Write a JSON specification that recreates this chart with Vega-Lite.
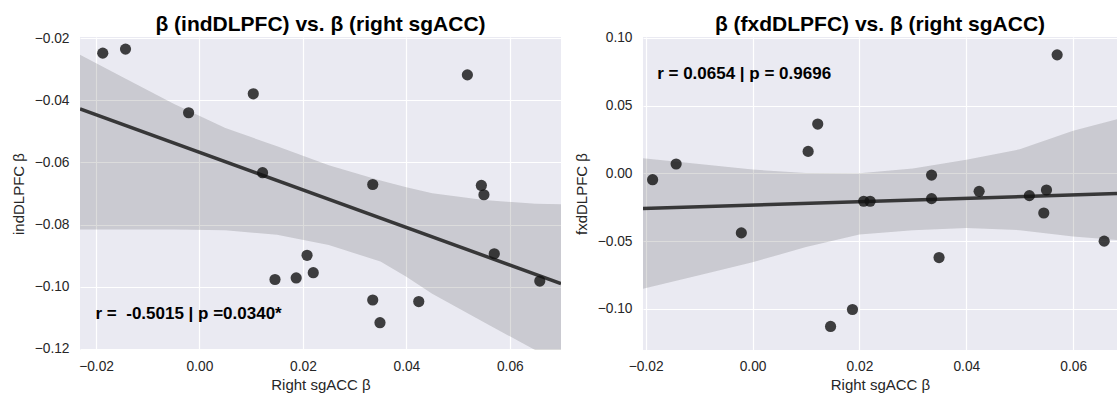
{
  "$schema": "https://vega.github.io/schema/vega-lite/v6.json",
  "padding": {"left": 11, "top": 13, "right": 0, "bottom": 0},
  "background": "white",
  "bounds": "flush",
  "spacing": 82,
  "config": {
    "font": "Liberation Sans",
    "view": {"fill": "#EAEAF2", "stroke": null},
    "axis": {
      "grid": true, "gridColor": "#FFFFFF", "gridWidth": 1.2, "domain": false, "ticks": false,
      "labelFont": "Liberation Sans", "labelFontSize": 13.75, "labelColor": "#262626",
      "titleFont": "Liberation Sans", "titleFontSize": 15, "titleFontWeight": "normal", "titleColor": "#262626",
      "format": ".2f", "labelExpr": "replace(datum.label, '-', '\u2212')"
    },
    "axisX": {"labelPadding": 9, "titlePadding": 5},
    "axisY": {"labelPadding": 11, "titlePadding": 8},
    "title": {"font": "Liberation Sans", "fontSize": 21, "fontWeight": "bold", "color": "#000000", "anchor": "middle", "offset": -4}
  },
  "datasets": {
    "pts": [
      {"x": -0.0187, "ind": -0.0248, "fxd": -0.0047},
      {"x": -0.0143, "ind": -0.0235, "fxd": 0.0069},
      {"x": 0.0518, "ind": -0.0318, "fxd": -0.0165},
      {"x": 0.0104, "ind": -0.0379, "fxd": 0.0162},
      {"x": -0.0021, "ind": -0.0440, "fxd": -0.0440},
      {"x": 0.0122, "ind": -0.0633, "fxd": 0.0364},
      {"x": 0.0335, "ind": -0.0671, "fxd": -0.0013},
      {"x": 0.0545, "ind": -0.0674, "fxd": -0.0293},
      {"x": 0.0550, "ind": -0.0704, "fxd": -0.0123},
      {"x": 0.0208, "ind": -0.0899, "fxd": -0.0206},
      {"x": 0.0220, "ind": -0.0955, "fxd": -0.0206},
      {"x": 0.0146, "ind": -0.0977, "fxd": -0.1131},
      {"x": 0.0187, "ind": -0.0972, "fxd": -0.1006},
      {"x": 0.0335, "ind": -0.1043, "fxd": -0.0187},
      {"x": 0.0424, "ind": -0.1048, "fxd": -0.0133},
      {"x": 0.0349, "ind": -0.1116, "fxd": -0.0622},
      {"x": 0.0570, "ind": -0.0894, "fxd": 0.0875},
      {"x": 0.0658, "ind": -0.0982, "fxd": -0.0501}
    ],
    "bandL": [
      {"x": -0.0231, "lo": -0.0816, "hi": -0.0253},
      {"x": -0.015, "lo": -0.0816, "hi": -0.0324},
      {"x": -0.005, "lo": -0.0816, "hi": -0.0411},
      {"x": 0.005, "lo": -0.0818, "hi": -0.0489},
      {"x": 0.015, "lo": -0.0833, "hi": -0.0548},
      {"x": 0.025, "lo": -0.0866, "hi": -0.0609},
      {"x": 0.035, "lo": -0.0919, "hi": -0.0658},
      {"x": 0.040, "lo": -0.0968, "hi": -0.0680},
      {"x": 0.045, "lo": -0.1023, "hi": -0.0699},
      {"x": 0.055, "lo": -0.1115, "hi": -0.0721},
      {"x": 0.065, "lo": -0.1205, "hi": -0.0733},
      {"x": 0.0699, "lo": -0.1245, "hi": -0.0735}
    ],
    "bandR": [
      {"x": -0.0205, "lo": -0.0853, "hi": 0.0111},
      {"x": -0.01, "lo": -0.0753, "hi": 0.0068},
      {"x": 0.0, "lo": -0.0657, "hi": 0.0028},
      {"x": 0.01, "lo": -0.0545, "hi": 0.0002},
      {"x": 0.02, "lo": -0.0452, "hi": 0.0},
      {"x": 0.03, "lo": -0.0421, "hi": 0.0036},
      {"x": 0.04, "lo": -0.0403, "hi": 0.0100},
      {"x": 0.05, "lo": -0.0420, "hi": 0.0177},
      {"x": 0.06, "lo": -0.0467, "hi": 0.0315},
      {"x": 0.0682, "lo": -0.0492, "hi": 0.0400}
    ],
    "noteL": [{"x": -0.0201, "y": -0.1089, "t": "r = \u00a0-0.5015 | p =0.0340*"}],
    "noteR": [{"x": -0.01785, "y": 0.0737, "t": "r = 0.0654 | p = 0.9696"}]
  },
  "hconcat": [
    {
      "width": 481, "height": 313,
      "title": {"text": "\u03b2 (indDLPFC) vs. \u03b2 (right sgACC)"},
      "layer": [
        {
          "data": {"name": "bandL"},
          "mark": {"type": "area", "color": "#111111", "opacity": 0.15, "clip": true},
          "encoding": {
            "x": {"field": "x", "type": "quantitative", "scale": {"domain": [-0.0231, 0.0699], "nice": false, "zero": false},
                  "axis": {"values": [-0.02, 0, 0.02, 0.04, 0.06], "title": "Right sgACC \u03b2"}},
            "y": {"field": "lo", "type": "quantitative", "scale": {"domain": [-0.1204, -0.0196], "nice": false, "zero": false},
                  "axis": {"values": [-0.12, -0.1, -0.08, -0.06, -0.04, -0.02], "title": "indDLPFC \u03b2"}},
            "y2": {"field": "hi"}
          }
        },
        {
          "data": {"name": "pts"},
          "transform": [{"regression": "ind", "on": "x", "extent": [-0.0231, 0.0699]}],
          "mark": {"type": "line", "color": "#111111", "opacity": 0.8, "strokeWidth": 3.5, "clip": true},
          "encoding": {
            "x": {"field": "x", "type": "quantitative"},
            "y": {"field": "ind", "type": "quantitative"}
          }
        },
        {
          "data": {"name": "pts"},
          "mark": {"type": "circle", "size": 125, "color": "#111111", "opacity": 0.8},
          "encoding": {
            "x": {"field": "x", "type": "quantitative"},
            "y": {"field": "ind", "type": "quantitative"}
          }
        },
        {
          "data": {"name": "noteL"},
          "mark": {"type": "text", "align": "left", "baseline": "middle", "fontWeight": "bold", "fontSize": 17, "color": "#000000", "font": "Liberation Sans"},
          "encoding": {
            "x": {"field": "x", "type": "quantitative"},
            "y": {"field": "y", "type": "quantitative"},
            "text": {"field": "t"}
          }
        }
      ]
    },
    {
      "width": 474, "height": 313,
      "title": {"text": "\u03b2 (fxdDLPFC) vs. \u03b2 (right sgACC)"},
      "layer": [
        {
          "data": {"name": "bandR"},
          "mark": {"type": "area", "color": "#111111", "opacity": 0.15, "clip": true},
          "encoding": {
            "x": {"field": "x", "type": "quantitative", "scale": {"domain": [-0.0205, 0.0682], "nice": false, "zero": false},
                  "axis": {"values": [-0.02, 0, 0.02, 0.04, 0.06], "title": "Right sgACC \u03b2"}},
            "y": {"field": "lo", "type": "quantitative", "scale": {"domain": [-0.1305, 0.1007], "nice": false, "zero": false},
                  "axis": {"values": [-0.1, -0.05, 0, 0.05, 0.1], "title": "fxdDLPFC \u03b2"}},
            "y2": {"field": "hi"}
          }
        },
        {
          "data": {"name": "pts"},
          "transform": [{"regression": "fxd", "on": "x", "extent": [-0.0205, 0.0682]}],
          "mark": {"type": "line", "color": "#111111", "opacity": 0.8, "strokeWidth": 3.5, "clip": true},
          "encoding": {
            "x": {"field": "x", "type": "quantitative"},
            "y": {"field": "fxd", "type": "quantitative"}
          }
        },
        {
          "data": {"name": "pts"},
          "mark": {"type": "circle", "size": 125, "color": "#111111", "opacity": 0.8},
          "encoding": {
            "x": {"field": "x", "type": "quantitative"},
            "y": {"field": "fxd", "type": "quantitative"}
          }
        },
        {
          "data": {"name": "noteR"},
          "mark": {"type": "text", "align": "left", "baseline": "middle", "fontWeight": "bold", "fontSize": 17, "color": "#000000", "font": "Liberation Sans"},
          "encoding": {
            "x": {"field": "x", "type": "quantitative"},
            "y": {"field": "y", "type": "quantitative"},
            "text": {"field": "t"}
          }
        }
      ]
    }
  ]
}
